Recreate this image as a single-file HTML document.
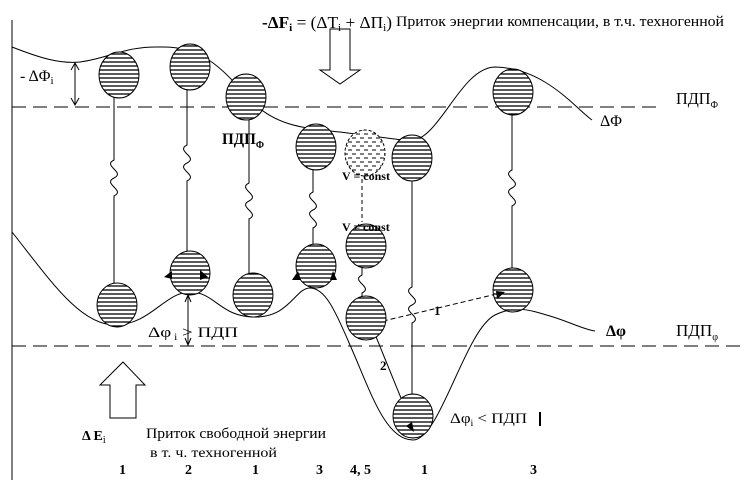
<!DOCTYPE html>
<html><head><meta charset="utf-8"><style>
html,body{margin:0;padding:0;background:#fff;}
svg{display:block}
text{font-family:"Liberation Serif",serif;fill:#000}
</style></head><body>
<svg width="744" height="480" viewBox="0 0 744 480" xmlns="http://www.w3.org/2000/svg">
<defs>
<pattern id="h" width="8" height="4" patternUnits="userSpaceOnUse"><rect width="8" height="4" fill="#fff"/><line x1="0" y1="2" x2="8" y2="2" stroke="#000" stroke-width="1.3"/></pattern>
<pattern id="d" width="8" height="8" patternUnits="userSpaceOnUse"><rect width="8" height="8" fill="#fff"/><line x1="0" y1="2" x2="4" y2="2" stroke="#000" stroke-width="1"/><line x1="4" y1="6" x2="8" y2="6" stroke="#000" stroke-width="1"/></pattern>
</defs>
<g stroke="#000" fill="none" stroke-width="1">
<line x1="12" y1="20" x2="12" y2="480"/>
<line x1="12" y1="107" x2="660" y2="107" stroke-dasharray="14,7"/>
<line x1="12" y1="346" x2="740" y2="346" stroke-dasharray="14,7"/>
<path d="M12,47 C40,58 60,64 80,62 C110,58 125,46 160,47 C200,46 220,65 250,100 C275,125 300,128 340,132 L410,141 C440,140 460,68 495,67 C545,68 575,108 592,120"/>
<path d="M12,232 C50,280 80,325 115,325 C150,325 165,292 190,292 C215,292 220,317 255,317 C290,317 295,288 310,288 C325,288 335,310 350,345 C370,390 385,440 413,440 C440,440 465,330 495,315 C515,305 530,310 550,316 C570,322 585,330 595,331"/>
<line x1="75" y1="63" x2="75" y2="105"/>
<path d="M71,70 L75,63 L79,70 M71,98 L75,105 L79,98"/>
<line x1="188" y1="295" x2="188" y2="345"/>
<path d="M185,302 L188,295 L191,302 M185,338 L188,345 L191,338"/>
<path d="M330,29 L350,29 L350,70 L360,70 L340,84 L320,70 L330,70 Z"/>
<path d="M110,418 L136,418 L136,385 L145,385 L123,362 L100,385 L110,385 Z"/>
<path d="M114,95 L114,160 C102,166 126,172 114,178 C102,184 126,190 114,196 L114,210 L114,288"/>
<path d="M187,87 L187,145 C175,151 199,157 187,163 C175,169 199,175 187,181 L187,195 L187,254"/>
<path d="M249,117 L249,183 C237,189 261,195 249,201 C237,207 261,213 249,219 L249,225 L249,276"/>
<path d="M313,167 L313,192 C301,198 325,204 313,210 C301,216 325,222 313,228 L313,249"/>
<path d="M362,172 L362,222" stroke-dasharray="4,3"/>
<path d="M362,268 L362,275 C350,281 374,287 362,293 L362,301"/>
<path d="M412,178 L412,287 C400,293 424,299 412,305 C400,311 424,317 412,323 L412,330 L412,400"/>
<path d="M512,112 L512,170 C500,176 524,182 512,188 C500,194 524,200 512,206 L512,271"/>
<path d="M375,323 L505,292" stroke-dasharray="5,3"/>
<line x1="370" y1="322" x2="414" y2="430"/>
<path d="M172,272 C180,262 200,262 208,272" stroke-dasharray="3,2"/>
<path d="M298,278 L316,263 L334,278"/>
</g>
<g stroke="#000" stroke-width="1" fill="url(#h)">
<ellipse cx="119" cy="75" rx="20" ry="23"/>
<ellipse cx="190" cy="67" rx="20" ry="23"/>
<ellipse cx="246" cy="97" rx="20" ry="23"/>
<ellipse cx="316" cy="147" rx="20" ry="23"/>
<ellipse cx="412" cy="158" rx="20" ry="23"/>
<ellipse cx="513" cy="92" rx="20" ry="23"/>
<ellipse cx="117" cy="305" rx="20" ry="22"/>
<ellipse cx="190" cy="273" rx="20" ry="22"/>
<ellipse cx="253" cy="295" rx="20" ry="22"/>
<ellipse cx="316" cy="266" rx="20" ry="22"/>
<ellipse cx="366" cy="246" rx="20" ry="22"/>
<ellipse cx="366" cy="318" rx="20" ry="22"/>
<ellipse cx="413" cy="416" rx="20" ry="22"/>
<ellipse cx="513" cy="290" rx="20" ry="22"/>
<ellipse cx="365" cy="153" rx="20" ry="23" fill="url(#d)" stroke-dasharray="3,2"/>
</g>
<g fill="#000">
<path d="M164,277 L172,271 L172,279Z"/><path d="M208,277 L200,270 L200,280Z"/>
<path d="M292,280 L298,271 L301,280Z"/><path d="M337,280 L333,271 L330,280Z"/>
<path d="M505,292 L496,291 L497,299Z"/>
<path d="M414,432 L406,426 L412,422Z"/>
<rect x="539" y="412" width="2" height="14"/>
</g>
<text x="262" y="28" font-size="17" textLength="130" lengthAdjust="spacingAndGlyphs" font-weight="bold">-ΔF<tspan font-size="11" dy="3">i</tspan><tspan dy="-3" font-weight="normal"> = (ΔT<tspan font-size="11" dy="3">i</tspan><tspan dy="-3"> + ΔП</tspan><tspan font-size="11" dy="3">i</tspan><tspan dy="-3">)</tspan></tspan></text>
<text x="396" y="26" font-size="15" textLength="328" lengthAdjust="spacingAndGlyphs">Приток  энергии  компенсации, в т.ч. техногенной</text>
<text x="20" y="81" font-size="16">- ΔΦ<tspan font-size="11" dy="3">i</tspan></text>
<text x="676" y="104" font-size="17" textLength="42" lengthAdjust="spacingAndGlyphs">ПДП<tspan font-size="10" dy="4">Ф</tspan></text>
<text x="222" y="144" font-size="16" font-weight="bold" textLength="42" lengthAdjust="spacingAndGlyphs">ПДП<tspan font-size="10" dy="4">Ф</tspan></text>
<text x="600" y="126" font-size="16">ΔΦ</text>
<text x="342" y="180" font-size="12" font-weight="bold">V = const</text>
<text x="342" y="231" font-size="12" font-weight="bold">V ≠ const</text>
<text x="148" y="337" font-size="15" textLength="90" lengthAdjust="spacingAndGlyphs">Δφ<tspan font-size="9" dy="3"> i</tspan><tspan dy="-3">    &gt; ПДП</tspan></text>
<text x="606" y="336" font-size="16" font-weight="bold">Δφ</text>
<text x="676" y="336" font-size="17" textLength="42" lengthAdjust="spacingAndGlyphs">ПДП<tspan font-size="10" dy="4">φ</tspan></text>
<text x="434" y="315" font-size="13" font-weight="bold">1</text>
<text x="380" y="370" font-size="13" font-weight="bold">2</text>
<text x="450" y="423" font-size="15" textLength="77" lengthAdjust="spacingAndGlyphs">Δφ<tspan font-size="9" dy="3">i</tspan><tspan dy="-3"> &lt; ПДП</tspan></text>
<text x="82" y="440" font-size="14" font-weight="bold">Δ E<tspan font-size="10" dy="3" font-weight="normal">i</tspan></text>
<text x="146" y="438" font-size="15" textLength="180" lengthAdjust="spacingAndGlyphs">Приток свободной энергии</text>
<text x="150" y="457" font-size="14" textLength="127" lengthAdjust="spacingAndGlyphs">в т. ч. техногенной</text>
<g font-family="Liberation Sans" font-size="14" font-weight="bold">
<text x="119" y="474">1</text><text x="185" y="474">2</text><text x="252" y="474">1</text><text x="316" y="474">3</text><text x="350" y="474">4, 5</text><text x="421" y="474">1</text><text x="530" y="474">3</text>
</g>
</svg>
</body></html>
